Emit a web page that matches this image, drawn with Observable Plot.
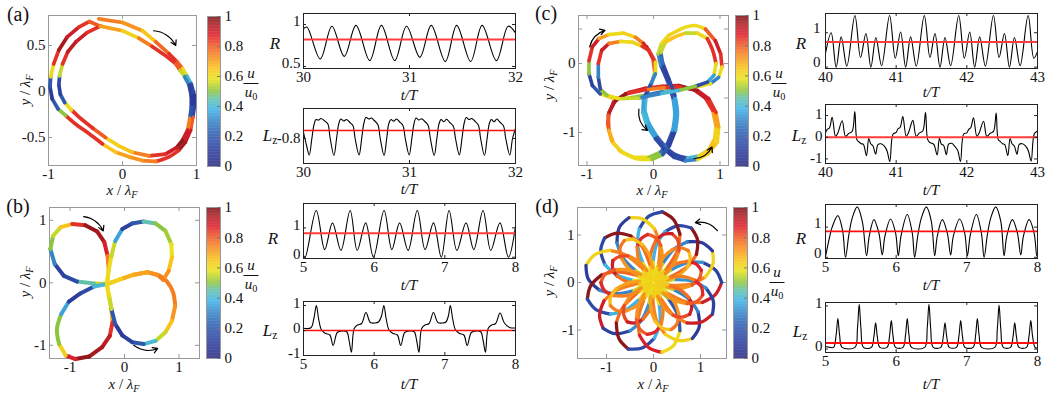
<!DOCTYPE html>
<html>
<head>
<meta charset="utf-8">
<script src="https://cdn.jsdelivr.net/npm/d3@7"></script>
<script src="https://cdn.jsdelivr.net/npm/@observablehq/plot@0.6"></script>
<style>
html,body{margin:0;padding:0;background:#fff;}
#fig{position:relative;width:1053px;height:398px;overflow:hidden;background:#fff;font-family:"Liberation Serif","Times New Roman",serif;color:#111;}
.t{position:absolute;white-space:nowrap;line-height:1;}
.t sub{font-size:0.68em;vertical-align:-0.3em;}
.frac{position:absolute;display:flex;flex-direction:column;align-items:center;font-size:15px;line-height:15px;transform:translateX(-50%);}
.frac .bar{width:15px;border-top:1px solid #111;margin:2px 0 1px;}
.frac sub{font-size:0.68em;vertical-align:-0.3em;font-style:normal;}
</style>
</head>
<body>
<div id="fig"></div>
<script>
// ---------------- DATA ----------------
const cbTicks = [0, 0.2, 0.4, 0.6, 0.8, 1];

// (a) trajectory: outer loop then inner loop
const aX = [-0.32,0.00,0.27,0.45,0.63,0.74,0.81,0.87,0.93,0.97,0.97,0.95,0.92,0.85,0.76,0.63,0.45,0.27,0.09,-0.09,-0.27,-0.45,-0.64,-0.77,-0.87,-0.95,-0.98,-0.97,-0.93,-0.86,-0.75,-0.59,-0.45,
  -0.30,0.00,0.22,0.40,0.58,0.72,0.78,0.84,0.90,0.93,0.93,0.91,0.88,0.81,0.73,0.58,0.36,0.13,-0.05,-0.23,-0.40,-0.57,-0.69,-0.78,-0.84,-0.86,-0.85,-0.81,-0.74,-0.63,-0.48,-0.30];
const aY = [0.79,0.75,0.66,0.54,0.41,0.32,0.25,0.17,0.08,-0.04,-0.17,-0.28,-0.42,-0.55,-0.64,-0.71,-0.76,-0.75,-0.71,-0.66,-0.57,-0.46,-0.35,-0.26,-0.19,-0.08,0.05,0.16,0.30,0.45,0.59,0.70,0.76,
  0.71,0.66,0.58,0.49,0.39,0.30,0.23,0.16,0.07,-0.05,-0.17,-0.29,-0.42,-0.53,-0.61,-0.68,-0.70,-0.66,-0.59,-0.50,-0.40,-0.29,-0.20,-0.12,-0.03,0.07,0.17,0.30,0.43,0.54,0.64,0.71];
const aC = [0.75,0.72,0.65,0.78,0.85,0.8,0.6,0.4,0.15,0.1,0.15,0.8,0.9,0.95,0.85,0.85,0.75,0.72,0.7,0.65,0.85,0.85,0.85,0.5,0.2,0.1,0.2,0.6,0.85,0.95,0.9,0.85,0.8,
  0.7,0.62,0.75,0.85,0.85,0.8,0.55,0.3,0.12,0.1,0.2,0.75,0.9,0.97,0.9,0.85,0.75,0.65,0.62,0.8,0.85,0.85,0.6,0.2,0.12,0.15,0.55,0.85,0.92,0.9,0.85,0.7];

// (b) trajectory
const bX = [-0.32,-0.56,-0.87,-1.11,-1.28,-1.36,-1.31,-1.17,-0.96,-0.72,-0.50,-0.37,-0.31,-0.29,-0.31,-0.32,
  -0.29,-0.24,-0.22,-0.27,-0.41,-0.65,-0.90,-1.08,-1.20,-1.24,-1.16,-1.02,-0.81,-0.56,-0.32,
  -0.07,0.17,0.42,0.63,0.78,0.89,0.93,0.87,0.75,0.57,0.35,0.14,-0.04,-0.17,-0.24,-0.28,-0.32,
  -0.29,-0.24,-0.17,-0.04,0.14,0.35,0.57,0.75,0.86,0.87,0.81,0.71,0.60,0.42,0.17,-0.07,-0.32];
const bY = [-0.02,-0.01,0.02,0.11,0.30,0.54,0.75,0.89,0.94,0.92,0.82,0.65,0.43,0.22,0.06,-0.02,
  -0.21,-0.42,-0.63,-0.85,-1.03,-1.18,-1.22,-1.16,-0.98,-0.74,-0.50,-0.30,-0.17,-0.06,-0.02,
  0.06,0.13,0.17,0.12,0.02,-0.15,-0.37,-0.61,-0.79,-0.93,-0.98,-0.95,-0.84,-0.66,-0.42,-0.21,-0.02,
  0.19,0.43,0.67,0.86,0.95,0.98,0.95,0.83,0.62,0.41,0.19,0.05,0.13,0.17,0.13,0.06,-0.02];
const bC = [0.55,0.45,0.15,0.12,0.3,0.5,0.55,0.65,0.85,0.97,0.95,0.88,0.75,0.62,0.6,0.58,
  0.6,0.68,0.85,0.92,0.95,0.97,0.88,0.62,0.5,0.5,0.35,0.1,0.15,0.4,0.55,
  0.62,0.68,0.72,0.75,0.75,0.75,0.72,0.65,0.55,0.4,0.2,0.12,0.1,0.2,0.55,0.6,0.6,
  0.6,0.55,0.35,0.12,0.2,0.45,0.5,0.52,0.58,0.65,0.72,0.75,0.72,0.7,0.68,0.62,0.6];

// (c) trajectory: two passes of the three-lobed orbit
const cX = [-0.10,-0.01,0.02,-0.03,-0.11,-0.13,-0.07,0.06,0.18,0.33,0.51,0.68,0.83,0.92,0.94,0.89,0.78,0.61,0.38,0.13,-0.12,-0.37,-0.57,-0.67,-0.69,-0.63,-0.50,-0.30,-0.07,0.11,0.21,0.29,0.32,0.29,0.21,0.11,0.07,0.12,0.23,0.41,0.61,0.78,0.93,1.01,1.03,0.98,0.86,0.63,0.38,0.13,-0.12,-0.37,-0.62,-0.80,-0.92,-0.97,-0.97,-0.92,-0.82,-0.67,-0.45,-0.27,-0.15,
  -0.07,0.03,0.03,-0.05,-0.15,-0.16,-0.10,0.03,0.16,0.31,0.48,0.66,0.82,0.96,0.98,0.94,0.83,0.66,0.41,0.16,-0.12,-0.42,-0.60,-0.68,-0.67,-0.60,-0.45,-0.25,-0.02,0.14,0.24,0.33,0.36,0.32,0.23,0.14,0.11,0.18,0.31,0.48,0.66,0.81,0.89,0.94,0.91,0.81,0.63,0.38,0.08,-0.22,-0.52,-0.70,-0.80,-0.83,-0.83,-0.78,-0.67,-0.50,-0.32,-0.17,-0.07];
const cY = [0.24,0.07,-0.13,-0.29,-0.46,-0.68,-0.87,-1.07,-1.21,-1.32,-1.37,-1.34,-1.25,-1.09,-0.90,-0.68,-0.50,-0.38,-0.32,-0.33,-0.36,-0.42,-0.53,-0.71,-0.90,-1.12,-1.27,-1.36,-1.36,-1.28,-1.16,-0.97,-0.73,-0.49,-0.25,-0.03,0.14,0.29,0.41,0.50,0.55,0.50,0.33,0.14,-0.05,-0.20,-0.29,-0.34,-0.37,-0.41,-0.46,-0.50,-0.50,-0.44,-0.32,-0.15,0.04,0.24,0.36,0.42,0.44,0.38,0.29,
  0.19,0.02,-0.15,-0.32,-0.51,-0.71,-0.90,-1.09,-1.24,-1.36,-1.41,-1.39,-1.31,-1.14,-0.92,-0.71,-0.51,-0.39,-0.34,-0.35,-0.38,-0.44,-0.56,-0.75,-0.97,-1.16,-1.30,-1.38,-1.39,-1.32,-1.19,-0.97,-0.71,-0.46,-0.22,0.00,0.16,0.31,0.38,0.44,0.44,0.36,0.19,0.00,-0.17,-0.27,-0.33,-0.39,-0.44,-0.50,-0.51,-0.46,-0.37,-0.20,0.00,0.19,0.29,0.32,0.31,0.25,0.19];
const cC = [0.85,0.8,0.5,0.3,0.4,0.38,0.35,0.2,0.15,0.15,0.4,0.62,0.65,0.62,0.7,0.85,0.9,0.97,0.9,0.85,0.9,0.97,0.95,0.85,0.7,0.65,0.62,0.6,0.5,0.25,0.15,0.35,0.35,0.2,0.15,0.3,0.55,0.6,0.62,0.6,0.6,0.8,0.9,0.85,0.6,0.3,0.6,0.6,0.45,0.25,0.5,0.6,0.62,0.2,0.12,0.5,0.85,0.9,0.7,0.6,0.62,0.75,0.9,
  0.85,0.6,0.3,0.15,0.35,0.4,0.35,0.15,0.12,0.15,0.3,0.6,0.65,0.62,0.7,0.85,0.9,0.95,0.85,0.75,0.85,0.97,0.92,0.8,0.68,0.62,0.6,0.6,0.5,0.2,0.12,0.35,0.35,0.15,0.12,0.25,0.55,0.65,0.65,0.55,0.6,0.85,0.85,0.6,0.35,0.15,0.5,0.4,0.3,0.55,0.6,0.5,0.15,0.3,0.85,0.9,0.75,0.6,0.62,0.85,0.85];

// (d) trajectory: rosette read in polar form (radius in λF, angle in degrees)
// large loops (blue tips near r≈1.45)
const dR = [0.05,0.42,0.82,1.12,1.34,1.45,1.35,1.13,0.84,0.44,
  0.05,0.42,0.82,1.11,1.32,1.42,1.33,1.12,0.83,0.43,
  0.05,0.41,0.80,1.09,1.30,1.40,1.31,1.10,0.82,0.43,
  0.05,0.44,0.85,1.16,1.39,1.50,1.40,1.17,0.87,0.46,
  0.05,0.43,0.83,1.13,1.36,1.46,1.37,1.14,0.85,0.45,
  0.05,0.41,0.80,1.09,1.30,1.40,1.31,1.10,0.82,0.43,
  0.05,0.44,0.84,1.15,1.38,1.48,1.39,1.16,0.86,0.45,
  0.05,0.42,0.82,1.12,1.34,1.45,1.35,1.13,0.84,0.44,
  0.05,0.42,0.82,1.12,1.34,1.44,1.35,1.13,0.84,0.44,
  0.05,0.44,0.85,1.16,1.39,1.50,1.40,1.17,0.87,0.46,
  0.05,0.44,0.84,1.15,1.38,1.48,1.39,1.16,0.86,0.45,
  0.05,0.42,0.82,1.12,1.34,1.44,1.35,1.13,0.84,0.44,
  0.05,0.42,0.82,1.11,1.32,1.42,1.33,1.12,0.83,0.43];
const dA = [-44,-36,-30,-22,-11,0,11,22,30,36,
  -16,-8,-2,6,17,28,39,50,58,64,
  11,19,25,33,44,55,66,77,85,91,
  39,47,53,61,72,83,94,105,113,119,
  67,75,81,89,100,111,122,133,141,147,
  94,102,108,116,127,138,149,160,168,174,
  122,130,136,144,155,166,177,188,196,202,
  150,158,164,172,183,194,205,216,224,230,
  178,186,192,200,211,222,233,244,252,258,
  205,213,219,227,238,249,260,271,279,285,
  233,241,247,255,266,277,288,299,307,313,
  261,269,275,283,294,305,316,327,335,341,
  288,296,302,310,321,332,343,354,362,368];
const dC = [0.6,0.75,0.75,0.9,0.9,0.12,0.12,0.32,0.32,0.55,
  0.62,0.74,0.74,0.62,0.62,0.1,0.1,0.3,0.3,0.55,
  0.6,0.78,0.78,0.98,0.98,0.15,0.15,0.38,0.38,0.58,
  0.6,0.78,0.78,0.98,0.98,0.15,0.15,0.38,0.38,0.58,
  0.62,0.74,0.74,0.62,0.62,0.1,0.1,0.3,0.3,0.55,
  0.6,0.78,0.78,0.98,0.98,0.15,0.15,0.38,0.38,0.58,
  0.62,0.74,0.74,0.62,0.62,0.1,0.1,0.3,0.3,0.55,
  0.6,0.78,0.78,0.98,0.98,0.15,0.15,0.38,0.38,0.58,
  0.6,0.75,0.75,0.9,0.9,0.12,0.12,0.32,0.32,0.55,
  0.6,0.78,0.78,0.98,0.98,0.15,0.15,0.38,0.38,0.58,
  0.6,0.76,0.76,0.88,0.88,0.6,0.6,0.2,0.2,0.5,
  0.62,0.74,0.74,0.62,0.62,0.1,0.1,0.3,0.3,0.55,
  0.6,0.75,0.75,0.9,0.9,0.12,0.12,0.32,0.32,0.55];
// smaller inner loops (orange, r≈1.0-1.1)
const dR2 = [0.05,0.30,0.58,0.82,0.98,1.05,0.99,0.84,0.60,0.32,
  0.05,0.29,0.56,0.79,0.93,1.00,0.94,0.80,0.58,0.31,
  0.05,0.31,0.60,0.86,1.03,1.10,1.04,0.88,0.62,0.33,
  0.05,0.30,0.57,0.80,0.95,1.02,0.96,0.82,0.59,0.31,
  0.05,0.31,0.59,0.84,1.01,1.08,1.02,0.86,0.61,0.32,
  0.05,0.29,0.55,0.78,0.91,0.98,0.92,0.79,0.57,0.30,
  0.05,0.32,0.61,0.87,1.05,1.12,1.06,0.89,0.63,0.33,
  0.05,0.30,0.58,0.81,0.97,1.04,0.98,0.83,0.60,0.31,
  0.05,0.29,0.56,0.79,0.93,1.00,0.94,0.80,0.58,0.31,
  0.05,0.31,0.60,0.86,1.03,1.10,1.04,0.88,0.62,0.33,
  0.05,0.30,0.58,0.83,0.99,1.06,1.00,0.85,0.61,0.32,
  0.05,0.30,0.57,0.80,0.95,1.02,0.96,0.82,0.59,0.31,
  0.05,0.31,0.59,0.84,1.01,1.08,1.02,0.86,0.61,0.32,
  0.05];
const dA2 = [-26,-18,-12,-4,5,14,23,32,40,46,
  2,10,16,24,33,42,51,60,68,74,
  29,37,43,51,60,69,78,87,95,101,
  57,65,71,79,88,97,106,115,123,129,
  85,93,99,107,116,125,134,143,151,157,
  112,120,126,134,143,152,161,170,178,184,
  140,148,154,162,171,180,189,198,206,212,
  168,176,182,190,199,208,217,226,234,240,
  196,204,210,218,227,236,245,254,262,268,
  223,231,237,245,254,263,272,281,289,295,
  251,259,265,273,282,291,300,309,317,323,
  279,287,293,301,310,319,328,337,345,351,
  306,314,320,328,337,346,355,364,372,378,
  316];
const dC2 = [0.62,0.72,0.72,0.8,0.8,0.88,0.88,0.76,0.76,0.65,
  0.6,0.7,0.7,0.66,0.66,0.75,0.75,0.72,0.72,0.6,
  0.62,0.73,0.73,0.82,0.82,0.9,0.9,0.77,0.77,0.64,
  0.62,0.72,0.72,0.8,0.8,0.86,0.86,0.75,0.75,0.63,
  0.6,0.7,0.7,0.65,0.65,0.76,0.76,0.72,0.72,0.6,
  0.62,0.73,0.73,0.82,0.82,0.9,0.9,0.77,0.77,0.64,
  0.62,0.72,0.72,0.8,0.8,0.86,0.86,0.75,0.75,0.63,
  0.6,0.7,0.7,0.66,0.66,0.75,0.75,0.72,0.72,0.6,
  0.62,0.73,0.73,0.82,0.82,0.9,0.9,0.77,0.77,0.64,
  0.62,0.72,0.72,0.8,0.8,0.86,0.86,0.75,0.75,0.63,
  0.6,0.7,0.7,0.65,0.65,0.76,0.76,0.72,0.72,0.6,
  0.62,0.73,0.73,0.82,0.82,0.9,0.9,0.77,0.77,0.64,
  0.62,0.72,0.72,0.8,0.8,0.86,0.86,0.75,0.75,0.63,
  0.6];

// direction arrows (data units) and bend sign
const arrowsA = [{x1:0.42,y1:0.66,x2:0.72,y2:0.50,b:1}];
const arrowsB = [{x1:-0.75,y1:1.06,x2:-0.39,y2:0.83,b:1},{x1:0.17,y1:-1.0,x2:0.61,y2:-1.05,b:-1}];
const arrowsC = [{x1:-0.96,y1:0.24,x2:-0.73,y2:0.48,b:1},{x1:-0.22,y1:-0.66,x2:-0.09,y2:-0.97,b:-1},{x1:0.61,y1:-1.38,x2:0.88,y2:-1.21,b:-1}];
const arrowsD = [{x1:1.36,y1:1.09,x2:0.89,y2:1.26,b:-1}];

// (a) R and Lz vs t/T
const raT = [30.00,30.032,30.158,30.268,30.385,30.495,30.625,30.735,30.861,30.972,31.098,31.205,31.338,31.445,31.577,31.685,31.820,31.931,32.00];
const raV = [0.95,0.97,0.59,0.98,0.62,0.99,0.57,0.99,0.57,0.98,0.61,0.99,0.56,0.99,0.56,0.99,0.57,0.98,0.90];
const laT = [30.000,30.030,30.054,30.079,30.099,30.118,30.140,30.165,30.195,30.230,30.250,30.287,30.312,30.332,30.352,30.380,30.405,30.435,30.466,30.487,30.524,30.549,30.569,30.590,30.615,30.640,30.668,30.702,30.724,30.760,30.785,30.805,30.826,30.851,30.877,30.905,30.938,30.960,30.997,31.022,31.042,31.062,31.088,31.114,31.142,31.175,31.197,31.233,31.258,31.278,31.298,31.324,31.350,31.378,31.412,31.434,31.470,31.495,31.515,31.535,31.561,31.587,31.615,31.649,31.671,31.707,31.732,31.752,31.772,31.798,31.824,31.852,31.886,31.908,31.946,31.972,32.000];
const laV = [-0.775,-0.83,-0.866,-0.800,-0.745,-0.724,-0.727,-0.720,-0.728,-0.742,-0.795,-0.868,-0.800,-0.742,-0.722,-0.730,-0.724,-0.735,-0.748,-0.800,-0.866,-0.80,-0.74,-0.715,-0.722,-0.718,-0.728,-0.745,-0.80,-0.868,-0.80,-0.74,-0.724,-0.731,-0.722,-0.733,-0.748,-0.80,-0.866,-0.80,-0.742,-0.718,-0.726,-0.721,-0.731,-0.747,-0.80,-0.868,-0.80,-0.742,-0.724,-0.733,-0.723,-0.735,-0.75,-0.80,-0.866,-0.80,-0.74,-0.716,-0.724,-0.72,-0.73,-0.746,-0.80,-0.868,-0.80,-0.742,-0.724,-0.733,-0.722,-0.734,-0.749,-0.80,-0.866,-0.80,-0.76];

// (b)
const rbT = [5.000,5.024,5.18,5.30,5.41,5.53,5.66,5.76,5.88,5.99,6.14,6.25,6.36,6.48,6.61,6.72,6.84,6.95,7.06,7.17,7.30,7.41,7.54,7.65,7.78,7.90,8.00];
const rbV = [0.06,0.00,1.59,0.26,1.17,0.23,1.59,0.23,1.17,0.00,1.59,0.26,1.17,0.23,1.59,0.26,1.17,0.00,1.59,0.23,1.17,0.26,1.59,0.23,1.17,0.00,1.05];
const lbT = [5.000,5.105,5.148,5.182,5.215,5.253,5.311,5.373,5.420,5.478,5.549,5.612,5.645,5.678,5.717,5.764,5.822,5.884,5.946,6.013,6.061,6.104,6.137,6.171,6.209,6.266,6.328,6.376,6.433,6.505,6.567,6.601,6.634,6.672,6.720,6.777,6.839,6.902,6.968,7.016,7.050,7.078,7.112,7.150,7.207,7.269,7.317,7.375,7.446,7.508,7.542,7.575,7.613,7.661,7.719,7.781,7.843,7.915,8.000];
const lbV = [0.09,0.11,0.50,1.00,0.45,0.03,-0.12,-0.18,-0.60,-0.08,-0.02,-0.05,-0.40,-0.87,0.08,0.22,0.28,0.72,0.32,0.30,0.34,0.58,1.00,0.45,0.03,-0.12,-0.18,-0.60,-0.08,-0.02,-0.05,-0.40,-0.87,0.08,0.22,0.28,0.72,0.32,0.30,0.34,0.58,1.00,0.45,0.03,-0.12,-0.18,-0.60,-0.08,-0.02,-0.05,-0.40,-0.87,0.08,0.22,0.28,0.70,0.30,0.12,0.10];

// (c)
const rcT = [40.000,40.080,40.151,40.222,40.302,40.416,40.496,40.572,40.642,40.713,40.794,40.907,40.987,41.063,41.134,41.205,41.285,41.398,41.478,41.549,41.620,41.691,41.771,41.885,41.965,42.041,42.111,42.182,42.263,42.376,42.456,42.532,42.603,42.674,42.754,42.867,42.948,43.000];
const rcV = [0.40,1.00,0.00,0.88,0.03,1.50,0.28,0.98,0.00,0.86,0.04,1.50,0.26,1.02,0.00,0.88,0.03,1.50,0.28,0.98,0.00,0.86,0.04,1.50,0.26,1.02,0.00,0.88,0.03,1.50,0.28,0.98,0.00,0.86,0.04,1.50,0.26,0.45];
const lcT = [40.000,40.024,40.057,40.094,40.142,40.175,40.236,40.283,40.330,40.378,40.415,40.445,40.475,40.505,40.535,40.580,40.612,40.640,40.672,40.710,40.742,40.785,40.830,40.870,40.910,40.955,
  41.000,41.024,41.057,41.094,41.142,41.175,41.236,41.283,41.330,41.378,41.415,41.445,41.475,41.505,41.535,41.580,41.612,41.640,41.672,41.710,41.742,41.785,41.830,41.870,41.910,41.955,
  42.000,42.024,42.057,42.094,42.142,42.175,42.236,42.283,42.330,42.378,42.415,42.445,42.475,42.505,42.535,42.580,42.612,42.640,42.672,42.710,42.742,42.785,42.830,42.870,42.910,42.955,43.000];
const lcV = [0.20,0.36,0.44,0.92,0.04,0.20,0.76,0.04,0.18,0.28,1.18,-0.12,-0.22,-0.30,-0.32,-0.85,-0.06,-0.30,-0.40,-0.78,-0.34,-0.30,-0.40,-0.62,-1.12,0.14,
  0.22,0.38,0.46,0.95,0.05,0.22,0.78,0.05,0.20,0.30,1.15,-0.10,-0.24,-0.28,-0.34,-0.82,-0.05,-0.32,-0.38,-0.80,-0.32,-0.28,-0.42,-0.60,-1.12,0.15,
  0.20,0.35,0.45,0.90,0.04,0.20,0.74,0.04,0.18,0.27,1.12,-0.12,-0.20,-0.30,-0.33,-0.84,-0.06,-0.30,-0.40,-0.78,-0.33,-0.30,-0.40,-0.62,-1.10,0.16,0.28];

// (d)
const rdT = [5.000,5.047,5.094,5.175,5.241,5.283,5.331,5.378,5.449,5.520,5.581,5.619,5.685,5.756,5.803,5.841,5.921,5.992,6.030,6.072,6.157,6.228,6.261,6.308,6.356,6.427,6.497,6.545,6.582,6.653,6.724,6.771,6.809,6.899,6.970,7.008,7.050,7.135,7.206,7.244,7.291,7.338,7.409,7.480,7.527,7.565,7.645,7.716,7.763,7.801,7.881,7.952,7.990,8.000];
const rdV = [0.02,0.55,1.00,1.38,0.90,0.00,0.75,1.30,1.67,1.20,0.05,0.70,1.25,0.80,0.08,0.70,1.27,0.80,0.05,0.75,1.42,0.80,0.00,0.75,1.30,1.67,1.20,0.05,0.70,1.25,0.80,0.08,0.70,1.27,0.80,0.05,0.75,1.42,0.80,0.00,0.75,1.30,1.67,1.20,0.05,0.70,1.25,0.80,0.08,0.70,1.25,0.80,0.05,0.12];
const ldT = [5.000,5.060,5.115,5.150,5.175,5.200,5.235,5.417,5.452,5.477,5.502,5.537,5.649,5.684,5.709,5.734,5.769,5.871,5.906,5.931,5.956,5.991,6.097,6.132,6.157,6.182,6.217,6.404,6.439,6.464,6.489,6.524,6.631,6.666,6.691,6.716,6.751,6.853,6.888,6.913,6.938,6.973,7.089,7.124,7.149,7.174,7.209,7.396,7.431,7.456,7.481,7.516,7.618,7.653,7.678,7.703,7.738,7.845,7.880,7.905,7.930,7.965,8.000];
const ldV = [0.06,0.04,0.04,0.32,0.71,0.32,0.04,0.04,0.47,1.04,0.47,0.04,0.04,0.28,0.61,0.28,0.04,0.04,0.30,0.66,0.30,0.04,0.04,0.32,0.71,0.32,0.04,0.04,0.47,1.04,0.47,0.04,0.04,0.28,0.61,0.28,0.04,0.04,0.30,0.66,0.30,0.04,0.04,0.32,0.71,0.32,0.04,0.04,0.46,1.02,0.46,0.04,0.04,0.28,0.61,0.28,0.04,0.04,0.30,0.66,0.30,0.04,0.02];

// time-averaged values (red lines)
const means = {Ra:0.82, La:-0.768, Rb:0.82, Lb:0, Rc:0.73, Lc:0, Rd:0.86, Ld:0.14};

// ---------------- RENDER ----------------
const FONT = '"Liberation Serif","Times New Roman",serif';
const COLOR = {type:"linear",
  domain:[0,0.1,0.2,0.3,0.38,0.45,0.5,0.58,0.65,0.72,0.8,0.87,0.94,1],
  range:["#2a2b83","#2d3c9c","#2f58ad","#3684c6","#3eb4e6","#63c1ab","#8cc640","#e8e31b","#f8c41b","#f7931e","#ef5b24","#e0202a","#b01c22","#7a1416"]};
const fig = document.getElementById("fig");
const fmt = d => String(d);
function place(node, left, top){ node.style.position="absolute"; node.style.left=left+"px"; node.style.top=top+"px"; fig.appendChild(node); }
function txt(html, cx, cy, size, opt={}){
  const d=document.createElement("div"); d.className="t"; d.innerHTML=html;
  d.style.fontSize=size+"px"; d.style.left=cx+"px"; d.style.top=cy+"px";
  d.style.transform="translate(-50%,-50%)"+(opt.rot?" rotate(-90deg)":"");
  if(opt.italic) d.style.fontStyle="italic";
  fig.appendChild(d);
}
function frac(cx, barY){
  const d=document.createElement("div"); d.className="frac";
  d.innerHTML='<i>u</i><div class="bar"></div><span><i>u</i><sub>0</sub></span>';
  d.style.left=cx+"px"; d.style.top=(barY-17)+"px"; fig.appendChild(d);
}
const zip3 = (X,Y,C) => X.map((x,i)=>({x, y:Y[i], c:C[i]}));
const zip2 = (T,V) => T.map((t,i)=>({t, v:V[i]}));
const polar = (R,A,C) => R.map((r,i)=>({x:r*Math.cos(A[i]*Math.PI/180), y:r*Math.sin(A[i]*Math.PI/180), c:C[i]}));

function traj(o){
  const ml=46, mr=6, mt=6, mb=26;
  const W=o.fx[1]-o.fx[0], H=o.fy[1]-o.fy[0];
  const it = o.it || o.yt;
  const ao = {x1:"x1",y1:"y1",x2:"x2",y2:"y2",stroke:"#000",strokeWidth:1.2,headLength:7};
  const svg = Plot.plot({
    width:W+ml+mr, height:H+mt+mb, marginLeft:ml, marginRight:mr, marginTop:mt, marginBottom:mb,
    style:{fontFamily:FONT,fontSize:"15px",background:"transparent",color:"#111",overflow:"visible"},
    x:{domain:o.xd,label:null}, y:{domain:o.yd,label:null}, color:COLOR,
    marks:[
      Plot.frame({stroke:"#999"}),
      Plot.tickX(o.xt,{x:d=>d,insetTop:H-4,stroke:"#999"}),
      Plot.tickX(o.xt,{x:d=>d,insetBottom:H-4,stroke:"#999"}),
      Plot.tickY(it,{y:d=>d,insetRight:W-4,stroke:"#999"}),
      Plot.tickY(it,{y:d=>d,insetLeft:W-4,stroke:"#999"}),
      Plot.line(o.data,{x:"x",y:"y",stroke:"c",z:null,strokeWidth:o.sw,curve:"catmull-rom"}),
      Plot.arrow(o.arrows.filter(d=>d.b>0),{...ao,bend:30}),
      Plot.arrow(o.arrows.filter(d=>d.b<0),{...ao,bend:-30}),
      Plot.axisX(o.xt,{tickSize:0,tickPadding:3,tickFormat:fmt,label:null}),
      Plot.axisY(o.yt,{tickSize:0,tickPadding:3,tickFormat:fmt,label:null})
    ]
  });
  place(svg, o.fx[0]-ml, o.fy[0]-mt);
}
function cbar(fx, fy){
  const W=fx[1]-fx[0], H=fy[1]-fy[0];
  const ramp = d3.range(0, 1, 0.004);
  const svg = Plot.plot({
    width:W+40, height:H+12, marginLeft:0, marginRight:40, marginTop:6, marginBottom:6,
    style:{fontFamily:FONT,fontSize:"15px",background:"transparent",color:"#111",overflow:"visible"},
    x:{domain:[0,1],axis:null}, y:{domain:[0,1],label:null}, color:COLOR,
    marks:[
      Plot.rect(ramp,{x1:()=>0,x2:()=>1,y1:d=>d,y2:d=>Math.min(1,d+0.005),fill:d=>d+0.002}),
      Plot.frame({stroke:"#999"}),
      Plot.tickY(cbTicks,{y:d=>d,insetLeft:W-3,stroke:"#777"}),
      Plot.axisY(cbTicks,{anchor:"right",tickSize:0,tickPadding:4,tickFormat:fmt,label:null})
    ]
  });
  place(svg, fx[0], fy[0]-6);
}
function ts(o){
  const ml=40, mr=6, mt=6, mb=24;
  const W=o.fx[1]-o.fx[0], H=o.fy[1]-o.fy[0];
  const svg = Plot.plot({
    width:W+ml+mr, height:H+mt+mb, marginLeft:ml, marginRight:mr, marginTop:mt, marginBottom:mb,
    style:{fontFamily:FONT,fontSize:"15px",background:"transparent",color:"#111",overflow:"visible"},
    x:{domain:o.xd,label:null}, y:{domain:o.yd,label:null},
    marks:[
      Plot.line(o.data,{x:"t",y:"v",stroke:"#000",strokeWidth:1.1,curve:"catmull-rom",clip:true}),
      Plot.ruleY([o.mean],{stroke:o.mc||"#ff3b3b",strokeWidth:o.mw||2}),
      Plot.frame({stroke:"#222"}),
      Plot.tickX(o.xt,{x:d=>d,insetTop:H-3,stroke:"#222"}),
      Plot.tickX(o.xt,{x:d=>d,insetBottom:H-3,stroke:"#222"}),
      Plot.tickY(o.yt,{y:d=>d,insetRight:W-3,stroke:"#222"}),
      Plot.tickY(o.yt,{y:d=>d,insetLeft:W-3,stroke:"#222"}),
      Plot.axisX(o.xt,{tickSize:0,tickPadding:3,tickFormat:fmt,label:null}),
      Plot.axisY(o.yt,{tickSize:0,tickPadding:o.ypad||3,tickFormat:fmt,label:null,dy:o.ydy||0})
    ]
  });
  place(svg, o.fx[0]-ml, o.fy[0]-mt);
}

// trajectories
traj({fx:[48,196], fy:[15,165], xd:[-1,1], yd:[-0.804,0.826], xt:[-1,0,1], yt:[-0.5,0,0.5], data:zip3(aX,aY,aC), arrows:arrowsA, sw:3.7});
traj({fx:[49,199], fy:[207,358], xd:[-1.376,1.376], yd:[-1.211,1.205], xt:[-1,0,1], yt:[-1,0,1], data:zip3(bX,bY,bC), arrows:arrowsB, sw:4});
traj({fx:[578,728], fy:[15,165], xd:[-1.128,1.128], yd:[-1.478,0.696], xt:[-1,0,1], yt:[-1,0], it:[-1,-0.5,0,0.5], data:zip3(cX,cY,cC), arrows:arrowsC, sw:3.6});
const dData = polar(dR,dA,dC).concat(polar(dR2,dA2,dC2));
traj({fx:[577,726], fy:[207,358], xd:[-1.617,1.553], yd:[-1.6,1.579], xt:[-1,0,1], yt:[-1,0,1], data:dData, arrows:arrowsD, sw:3.3});

// colour bars
cbar([207,220],[16,166]);
cbar([206,220],[207,358]);
cbar([735,748],[15,166]);
cbar([733,747],[207,358]);

// time series
ts({fx:[303,515], fy:[13,68], xd:[30,32], yd:[0.476,1.131], xt:[30,31,32], yt:[0.5,1], data:zip2(raT,raV), mean:means.Ra, ydy:-3});
ts({fx:[303,515], fy:[108,163], xd:[30,32], yd:[-0.90,-0.68], xt:[30,31,32], yt:[-0.8], data:zip2(laT,laV), mean:means.La, mc:"#ff1010", mw:1.6});
ts({fx:[303,515], fy:[203,258], xd:[5,8], yd:[-0.044,1.83], xt:[5,6,7,8], yt:[0,1], data:zip2(rbT,rbV), mean:means.Rb, ydy:-3});
ts({fx:[303,515], fy:[301,355], xd:[5,8], yd:[-1,1.16], xt:[5,6,7,8], yt:[-1,0,1], data:zip2(lbT,lbV), mean:means.Lb, mc:"#ff1010", mw:1.4, ydy:-2});
ts({fx:[825,1037], fy:[13,68], xd:[40,43], yd:[-0.04,1.56], xt:[40,41,42,43], yt:[0,1], data:zip2(rcT,rcV), mean:means.Rc, ydy:-5, ypad:5});
ts({fx:[825,1037], fy:[104,163], xd:[40,43], yd:[-1.21,1.51], xt:[40,41,42,43], yt:[-1,0,1], data:zip2(lcT,lcV), mean:means.Lc, ydy:-1});
ts({fx:[825,1037], fy:[204,258], xd:[5,8], yd:[-0.04,1.75], xt:[5,6,7,8], yt:[0,1], data:zip2(rdT,rdV), mean:means.Rd, mc:"#ff1010", mw:1.8, ydy:-4, ypad:4});
ts({fx:[825,1037], fy:[302,352], xd:[5,8], yd:[-0.08,1.08], xt:[5,6,7,8], yt:[0,1], data:zip2(ldT,ldV), mean:means.Ld, mc:"#ff1010", mw:1.8, ydy:-3});

// text labels
txt("(a)",18,14,20); txt("(b)",18,206,20); txt("(c)",546,13,20); txt("(d)",547,206,20);
const yl = '<i>y</i> / <i>λ</i><sub><i>F</i></sub>', xl = '<i>x</i> / <i>λ</i><sub><i>F</i></sub>';
txt(yl,27,90,15,{rot:true}); txt(yl,27,282,15,{rot:true}); txt(yl,551,85,15,{rot:true}); txt(yl,551,281,15,{rot:true});
txt(xl,122,192,15); txt(xl,124,386,15); txt(xl,652,192,15); txt(xl,653,386,15);
frac(251,83); frac(251,275); frac(779,83); frac(777,282);
const tT = "t/T";
txt(tT,409,95,15,{italic:true}); txt(tT,409,189,15,{italic:true}); txt(tT,409,285,15,{italic:true}); txt(tT,409,384,15,{italic:true});
txt(tT,931,92,15,{italic:true}); txt(tT,931,190,15,{italic:true}); txt(tT,931,285,15,{italic:true}); txt(tT,931,384,15,{italic:true});
txt("R",275,43,17,{italic:true}); txt("R",273,238,17,{italic:true}); txt("R",801,43,17,{italic:true}); txt("R",801,238,17,{italic:true});
const Lz = '<i>L</i><sub>z</sub>';
txt(Lz,270,137,17); txt(Lz,270,332,17); txt(Lz,799,137,17); txt(Lz,800,333,17);
</script>
</body>
</html>
